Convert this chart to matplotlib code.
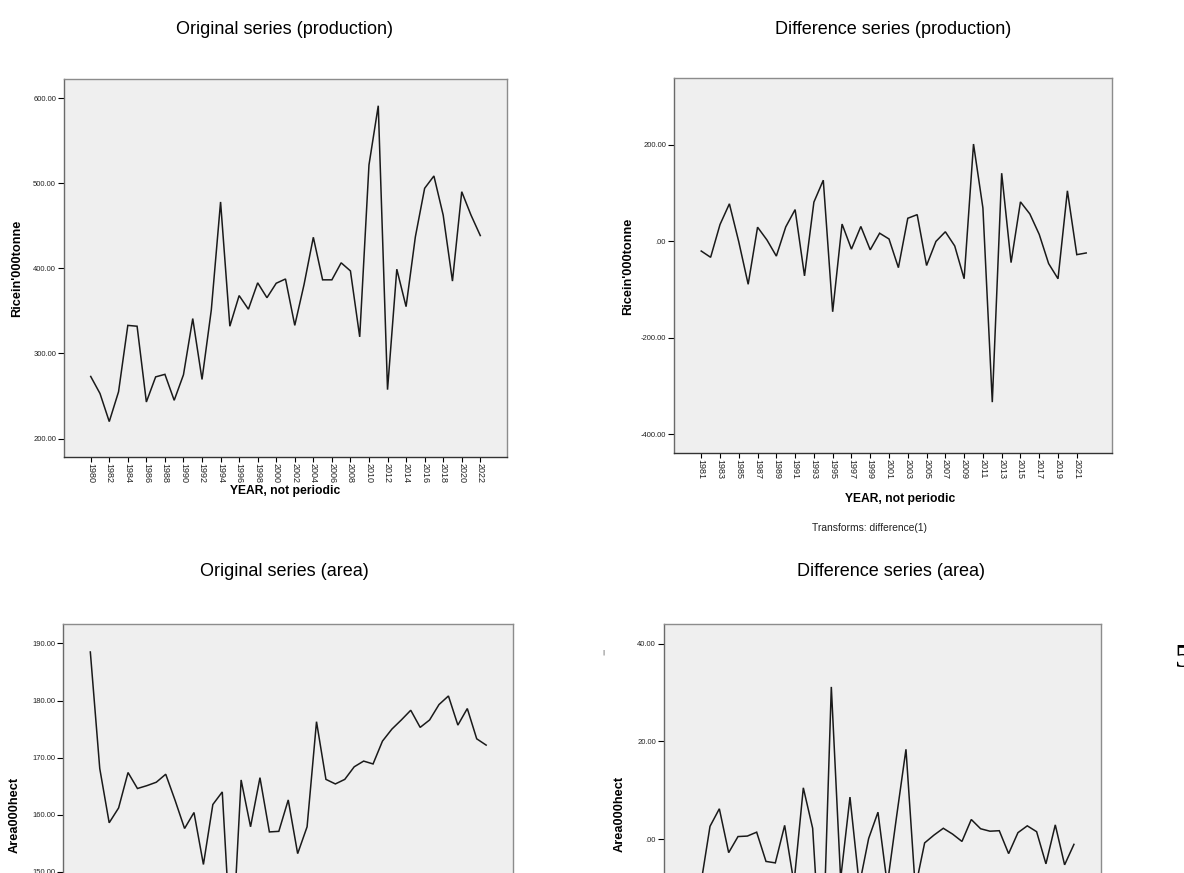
import matplotlib
matplotlib.use('Agg')
import matplotlib.pyplot as plt
from matplotlib import font_manager
from matplotlib.ticker import FixedLocator, FuncFormatter
import numpy as np

W, H = 1184, 873

# annual series, 1980-2022
years = np.arange(1980, 2023)
production = [273, 253, 220, 255, 333, 332, 243, 272.5, 275.5, 245,
              275, 341, 269.5, 351, 478, 332, 368, 352, 383, 365.5,
              382.5, 387.5, 333, 381, 436.5, 386.5, 386.5, 406.5, 397, 319.5,
              521.5, 591, 257.5, 399, 355, 437, 494, 508.5, 462.5, 385,
              490, 462.5, 438.5]
area = [188.5, 168.1, 158.6, 161.2, 167.4, 164.6, 165.1, 165.7, 167.1, 162.5,
        157.6, 160.4, 151.3, 161.8, 164.0, 134.9, 166.1, 157.9, 166.5, 157.0,
        157.1, 162.6, 153.2, 157.9, 176.3, 166.2, 165.4, 166.2, 168.4, 169.4,
        168.9, 172.9, 175.0, 176.6, 178.3, 175.3, 176.6, 179.3, 180.8, 175.7,
        178.6, 173.3, 172.2]

prod_ticks = [200, 300, 400, 500, 600]
dprod_ticks = [-400, -200, 0, 200]
area_ticks = [150, 160, 170, 180, 190]
darea_ticks = [0, 20, 40]

# first differences, as in difference(1)
diff_years = years[1:]
diff_production = np.diff(production)
diff_area = np.diff(area)

installed = {f.name for f in font_manager.fontManager.ttflist}
narrow = 'Liberation Sans Narrow' in installed
if narrow:
    hfont = 'Liberation Sans Narrow'
    title_size, ytick_size, xlab_size, note_size = 15.5, 6.6, 10.6, 9.0
else:
    hfont = 'Liberation Sans'
    title_size, ytick_size, xlab_size, note_size = 13.0, 5.5, 8.7, 7.4

fig = plt.figure(figsize=(W / 100, H / 100), dpi=100)
fig.patch.set_facecolor('white')


def px_axes(left, top, right, bottom):
    return fig.add_axes([left / W, 1 - bottom / H, (right - left) / W, (bottom - top) / H])


def px_text(x, y, s, **kw):
    fig.text(x / W, 1 - y / H, s, ha=kw.pop('ha', 'center'), va=kw.pop('va', 'center'), **kw)


def spss_fmt(v, pos):
    s = f'{v:.2f}'
    if s in ('0.00', '-0.00'):
        return '.00'
    return s


def style(ax, x, y, xlim, ylim, yticks, xticks, year_labels=True):
    ax.plot(x, y, color='#1a1a1a', lw=1.1, solid_joinstyle='miter')
    ax.set_facecolor('#efefef')
    ax.set_xlim(*xlim)
    ax.set_ylim(*ylim)
    ax.yaxis.set_major_locator(FixedLocator(yticks))
    ax.yaxis.set_major_formatter(FuncFormatter(spss_fmt))
    ax.set_xticks(xticks)
    if year_labels:
        ax.set_xticklabels([str(t) for t in xticks], rotation=270,
                           fontsize=6.5, family='Liberation Sans', color='#222222')
    else:
        # the year labels of the lower panels fall below the page
        ax.set_xticklabels([])
    for lab in ax.get_yticklabels():
        lab.set_family(hfont)
        lab.set_fontsize(ytick_size)
        lab.set_color('#222222')
    ax.tick_params(axis='y', direction='out', length=4.5, width=0.8, pad=1.2)
    ax.tick_params(axis='x', direction='out', length=3.5, width=0.8, pad=0.5)
    for side in ('top', 'right'):
        ax.spines[side].set_color('#8c8c8c')
        ax.spines[side].set_linewidth(1.0)
    ax.spines['left'].set_color('#6a6a6a')
    ax.spines['bottom'].set_color('#333333')
    for side in ('left', 'bottom'):
        ax.spines[side].set_linewidth(1.0)


ax1 = px_axes(64, 79, 507, 457)
style(ax1, years, production, (1977.12, 2024.88), (178.4, 622.4),
      prod_ticks, list(range(1980, 2023, 2)))

ax2 = px_axes(674, 78, 1112, 453)
style(ax2, diff_years, diff_production, (1978.1, 2024.75), (-439, 339),
      dprod_ticks, list(range(1981, 2022, 2)))

ax3 = px_axes(63, 624, 513, 1005)
style(ax3, years, area, (1977.1, 2024.85), (126.7, 193.4),
      area_ticks, list(range(1980, 2023, 2)), year_labels=False)

ax4 = px_axes(664, 624, 1101, 1054)
style(ax4, diff_years, diff_area, (1978.07, 2024.9), (-44.1, 44.1),
      darea_ticks, list(range(1981, 2022, 2)), year_labels=False)

# panel titles
px_text(285, 29, 'Original series (production)', family=hfont, fontsize=title_size)
px_text(893, 29, 'Difference series (production)', family=hfont, fontsize=title_size)
px_text(284, 571, 'Original series (area)', family=hfont, fontsize=title_size)
px_text(891, 571, 'Difference series (area)', family=hfont, fontsize=title_size)

# axis titles
px_text(17, 268, "Ricein'000tonne", rotation=90, fontsize=9.2,
        family='Liberation Sans', weight='bold')
px_text(628, 266, "Ricein'000tonne", rotation=90, fontsize=9.2,
        family='Liberation Sans', weight='bold')
px_text(15, 815, 'Area000hect', rotation=90, fontsize=9.2,
        family='Liberation Sans', weight='bold')
px_text(620, 814, 'Area000hect', rotation=90, fontsize=9.2,
        family='Liberation Sans', weight='bold')
px_text(285, 491, 'YEAR, not periodic', family=hfont, fontsize=xlab_size, weight='bold')
px_text(900, 499, 'YEAR, not periodic', family=hfont, fontsize=xlab_size, weight='bold')
px_text(870, 528, 'Transforms: difference(1)', family=hfont, fontsize=note_size,
        color='#222222')

# stray marks from the page
px_text(603, 652, '|', fontsize=4.5, color='#333333')
px_text(1175, 659, '5', ha='left', family='Liberation Serif', fontsize=24)

fig.savefig('out.png', dpi=100)
